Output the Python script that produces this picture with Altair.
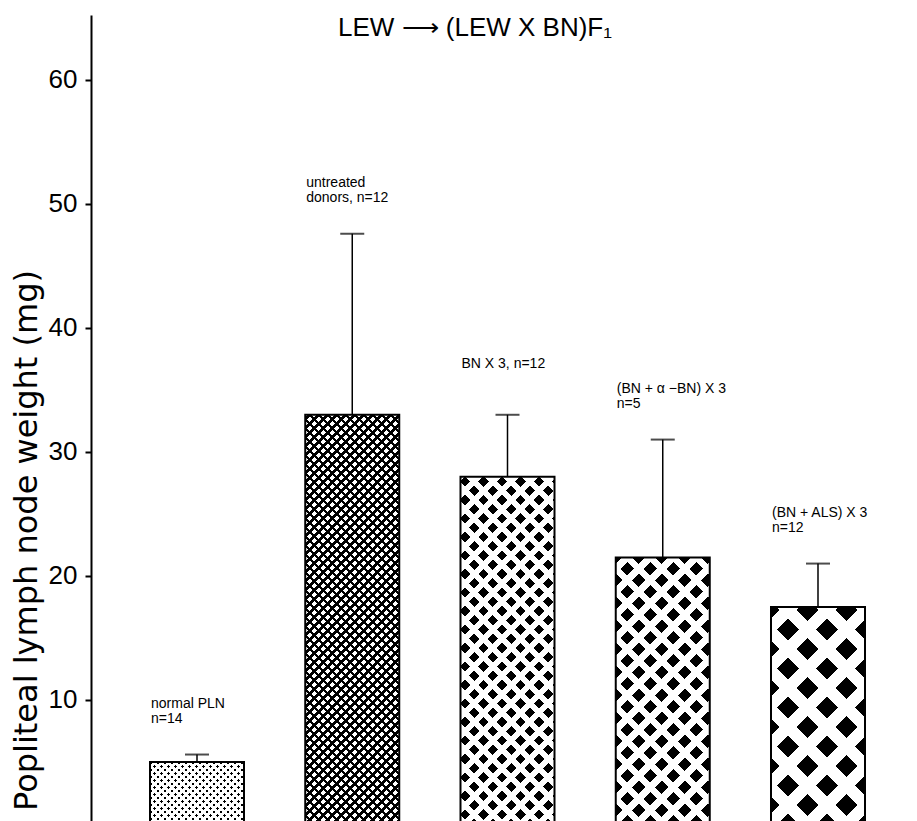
import altair as alt
import pandas as pd

# ---------------- data ----------------
categories = ["normal PLN", "untreated", "BN X 3", "BN + a-BN", "BN + ALS"]
labels = [
    "normal PLN\nn=14",
    "untreated\ndonors, n=12",
    "BN X 3, n=12",
    "(BN + α −BN) X 3\nn=5",
    "(BN + ALS) X 3\nn=12",
]
means = [5.0, 33.0, 28.0, 21.5, 17.5]
uppers = [5.6, 47.6, 33.0, 31.0, 21.0]
y_ticks = [10, 20, 30, 40, 50, 60]
title_text = "LEW ⟶ (LEW X BN)F₁"
y_title = "Popliteal lymph node weight (mg)"

df = pd.DataFrame({"cat": categories, "label": labels, "mean": means, "upper": uppers})

# ---------------- layout ----------------
PLOT_W = 800
PLOT_H = 806
Y_MAX = 65.24
Y_MIN = 0.24
BAND_RANGE = [59, 774]
PAD_INNER = 0.3945
ppu = PLOT_H / (Y_MAX - Y_MIN)
step = (BAND_RANGE[1] - BAND_RANGE[0]) / (len(categories) - PAD_INNER)
bw = step * (1 - PAD_INNER)

# fill patterns (base colour, stripe colour, period, diamond size, phase +, phase -)
patterns = {
    "normal PLN": ("black", "white", 7.0, 3.4, 2.0, 0.0),
    "untreated": ("white", "black", 9.0, 5.3, 0.0, 0.0),
    "BN X 3": ("black", "white", 18.5, 10.5, 9.0, 0.0),
    "BN + a-BN": ("black", "white", 23.0, 13.5, 0.0, 0.0),
    "BN + ALS": ("black", "white", 39.0, 22.0, 1.0, 33.0),
}
CLEAR = "rgba(255,255,255,0)"


def stripe_gradient(W, H, period, keep, phase, color, direction):
    L = W + H
    a = W * (W + H) / (W * W + H * H)
    if direction == "A":
        coords = dict(x1=0, y1=0, x2=a, y2=a * H / W)
        c = phase
    else:
        coords = dict(x1=0, y1=1, x2=a, y2=1 - a * H / W)
        c = phase + H
    stops = [{"offset": 0, "color": CLEAR}]
    k = int((0 - c) // period) - 2
    while c + k * period < L + period:
        a0 = c + k * period + keep / 2
        a1 = c + (k + 1) * period - keep / 2
        if a1 > 0 and a0 < L:
            s0 = max(a0, 0) / L
            s1 = min(a1, L) / L
            stops += [
                {"offset": s0, "color": CLEAR},
                {"offset": s0, "color": color},
                {"offset": s1, "color": color},
                {"offset": s1, "color": CLEAR},
            ]
        k += 1
    g = {"gradient": "linear", "stops": stops}
    g.update(coords)
    return g


y_axis = alt.Axis(
    values=y_ticks, title=y_title, grid=False,
    domainColor="black", domainWidth=2,
    tickColor="black", tickWidth=2, tickSize=6,
    labelFontSize=26, labelFont="Liberation Sans", labelColor="black", labelPadding=8,
    titleFont="DejaVu Sans", titleFontSize=32, titleFontWeight="normal", titleColor="black",
    titleAngle=270, titleX=-55, titleY=525, titleAlign="center", titleBaseline="alphabetic",
)
x_enc = alt.X(
    "cat:N", sort=categories,
    scale=alt.Scale(range=BAND_RANGE, paddingInner=PAD_INNER, paddingOuter=0),
    axis=None,
)
y_scale = alt.Scale(domain=[Y_MIN, Y_MAX], nice=False, zero=False)

base = alt.Chart(df)
layers = []
for i, cat in enumerate(categories):
    base_c, stripe_c, period, keep, pa, pb = patterns[cat]
    H = means[i] * ppu
    sub = base.transform_filter(alt.datum.cat == cat)
    enc = dict(x=x_enc, y=alt.Y("mean:Q", scale=y_scale, axis=y_axis))
    layers.append(sub.mark_bar(fill=base_c, clip=True).encode(**enc))
    layers.append(sub.mark_bar(fill=stripe_gradient(bw, H, period, keep, pa, stripe_c, "A"), clip=True).encode(**enc))
    layers.append(sub.mark_bar(fill=stripe_gradient(bw, H, period, keep, pb, stripe_c, "B"), clip=True).encode(**enc))

outline = base.mark_bar(fillOpacity=0, stroke="black", strokeWidth=2, clip=True).encode(
    x=x_enc, y=alt.Y("mean:Q", scale=y_scale, axis=y_axis)
)
err = base.mark_rule(color="black", strokeWidth=1.5).encode(
    x=x_enc, y=alt.Y("mean:Q", scale=y_scale, axis=y_axis), y2="upper:Q"
)
cap = base.mark_tick(color="black", thickness=2, size=24).encode(
    x=x_enc, y=alt.Y("upper:Q", scale=y_scale, axis=y_axis)
)
text = base.mark_text(
    align="left", baseline="top", dx=-bw / 2 + 1, dy=-58, lineBreak="\n",
    fontSize=14, font="Liberation Sans", lineHeight=15, color="black",
).encode(x=x_enc, y=alt.Y("upper:Q", scale=y_scale, axis=y_axis), text="label:N")

title_df = pd.DataFrame({"t": [title_text]})
header = alt.Chart(title_df).mark_text(
    font="Liberation Sans", fontSize=26, color="black", align="center", baseline="alphabetic",
).encode(x=alt.value(384), y=alt.value(21), text="t:N")

chart = alt.layer(*layers, outline, err, cap, text, header).properties(
    width=PLOT_W, height=PLOT_H,
    autosize=alt.AutoSizeParams(type="none"),
    padding={"left": 83, "top": 7, "right": 0, "bottom": 0},
    background="white",
).configure_view(strokeWidth=0)

chart.save("out.html", embed_options={"renderer": "svg", "actions": False})
